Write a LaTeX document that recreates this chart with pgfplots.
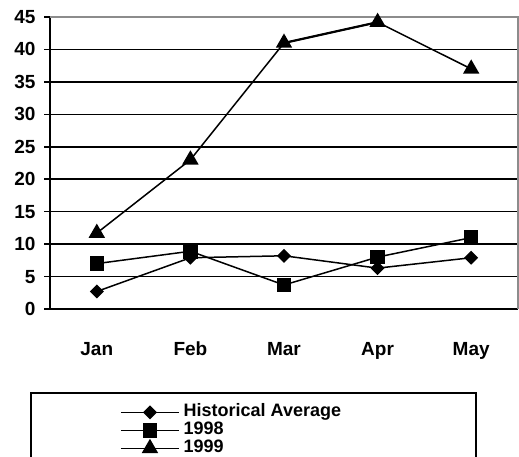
\documentclass[border=0pt]{standalone}
\usepackage{pgfplots}
\pgfplotsset{compat=1.18}
\usepackage{fontspec}
\setmainfont{Liberation Sans}

\pgfplotstableread{
x avg y98 y99
1 2.7 7.0 11.7
2 7.9 8.9 23.0
3 8.2 3.7 41.0
4 6.3 8.0 44.2
5 7.9 11.0 37.0
}\datatable

\begin{document}
\begin{tikzpicture}
\useasboundingbox (0,0) rectangle (519pt,456pt);
\clip (0,0) rectangle (519pt,456pt);
\begin{axis}[
  at={(50pt,147pt)}, anchor=south west,
  scale only axis, width=468pt, height=292pt,
  xmin=0.5, xmax=5.5, ymin=0, ymax=45,
  axis x line*=bottom, axis y line*=left,
  axis line style={black, line width=2pt, -},
  xtick={1,2,3,4,5},
  xticklabels={Jan,Feb,Mar,Apr,May},
  x tick style={draw=none},
  extra x ticks={0.5,1.5,2.5,3.5,4.5,5.5},
  extra x tick labels={},
  extra x tick style={tick style={draw=black, line width=1.5pt}, major tick length=6pt, tick align=outside, grid=none},
  ytick={0,5,...,45},
  y tick style={black, line width=1.5pt},
  major tick length=6pt, tick align=outside,
  ymajorgrids, major grid style={black, line width=1.5pt},
  /pgf/number format/assume math mode=true,
  tick label style={font=\fontsize{19}{21}\selectfont\bfseries},
  xticklabel style={yshift=-23pt, text height=14pt, text depth=4pt},
  yticklabel style={xshift=-5pt},
  clip=false,
  legend style={at={(0.1496,-0.324)}, anchor=north west, draw=none, fill=none,
    inner sep=0pt, font=\fontsize{18}{20}\selectfont\bfseries,
    row sep=1pt, nodes={inner ysep=0pt, inner xsep=4pt, text height=13pt, text depth=4pt}},
  legend cell align=left,
  legend image code/.code={%
    \draw[#1, line width=1.5pt] (0pt,0pt) -- (58pt,0pt);
    \draw[#1, line width=1.5pt] plot coordinates {(29pt,0pt)};
  },
]
% top and right frame
\draw[gray!90, line width=1.5pt] (rel axis cs:0,1) -- (rel axis cs:1,1) -- (rel axis cs:1,0);

\addplot[black, line width=1.5pt, mark=square*, mark size=4.2pt, mark options={rotate=45, solid}]
  table[x=x, y=avg] {\datatable};
\addlegendentry{Historical Average}
\addplot[black, line width=1.5pt, mark=square*, mark size=6.5pt]
  table[x=x, y=y98] {\datatable};
\addlegendentry{1998}
\addplot[black, line width=1.5pt, mark=triangle*, mark size=8pt]
  table[x=x, y=y99] {\datatable};
\addlegendentry{1999}

% varying stroke weights along the 1999 line
\addplot[black, line width=0.4pt, forget plot] coordinates {(1,11.7) (2,23.0)};
\addplot[black, line width=2.2pt, forget plot] coordinates {(3,41.0) (4,44.2)};
\end{axis}
% legend frame
\draw[black, line width=1.5pt] (31pt,63pt) rectangle (476pt,-30pt);
\end{tikzpicture}
\end{document}
